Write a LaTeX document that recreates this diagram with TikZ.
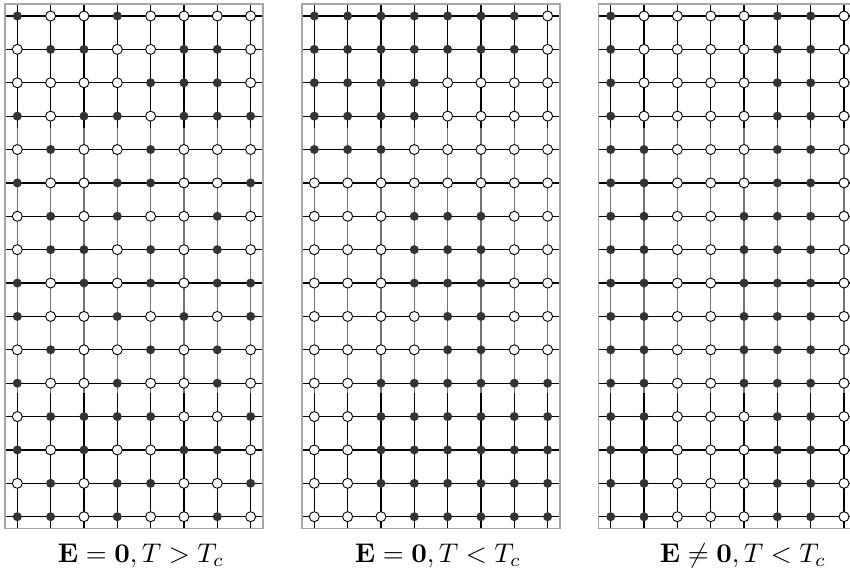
\documentclass[tikz,border=0pt]{standalone}
\usepackage{amsmath}
\begin{document}
\begin{tikzpicture}[x=1pt,y=-1pt,
  dot1/.style={circle,fill=black!80,inner sep=0pt,minimum size=9pt},
  dot0/.style={circle,draw=black,fill=white,line width=0.9pt,inner sep=0pt,minimum size=10pt},
  gridline/.style={line width=1.2pt,black},
  greyline/.style={line width=1.5pt,black!55},
  frame/.style={draw=black!35,line width=1.5pt},
  caption/.style={inner sep=0pt,scale=2.7}]
\useasboundingbox (0,0) rectangle (850,578);
\clip (0,0) rectangle (850,578);
\def\patA{1/{1,0,0,1,0,0,0,0},2/{0,1,1,0,0,1,1,0},3/{0,0,0,0,1,1,1,0},4/{1,0,1,1,0,1,1,1},
5/{0,1,0,0,1,0,0,0},6/{1,0,0,1,1,0,0,1},7/{0,1,0,1,0,0,1,0},8/{0,1,1,0,1,0,1,0},
9/{1,0,1,0,1,0,1,1},10/{1,0,0,1,0,1,0,1},11/{0,1,0,0,1,0,1,0},12/{1,0,0,1,0,0,1,0},
13/{0,1,1,1,1,0,0,1},14/{1,0,1,0,0,1,1,0},15/{0,1,0,1,1,0,0,1},16/{1,1,0,1,0,0,1,0}}
\def\patB{1/{1,1,1,1,1,1,1,0},2/{1,1,1,1,1,1,1,0},3/{1,1,1,1,0,0,0,0},4/{1,1,1,1,0,0,0,0},
5/{1,1,1,0,0,0,0,0},6/{0,0,0,0,0,0,0,0},7/{0,0,0,1,1,1,0,0},8/{0,0,0,1,1,1,0,0},
9/{0,0,0,1,1,1,0,0},10/{0,0,0,0,1,1,0,0},11/{0,0,0,0,1,1,0,0},12/{0,0,1,1,1,1,1,1},
13/{0,0,1,1,1,1,1,1},14/{0,0,1,1,1,1,1,1},15/{0,0,1,1,1,1,1,1},16/{0,0,0,1,1,1,1,1}}
\def\patC{1/{1,0,0,0,0,1,1,0},2/{1,0,0,0,0,1,1,0},3/{1,0,0,0,0,1,1,0},4/{1,0,0,0,0,1,1,0},
5/{1,1,0,0,0,1,1,0},6/{1,1,0,0,0,1,1,0},7/{1,1,0,0,1,1,1,0},8/{1,1,0,0,1,1,1,0},
9/{1,1,0,0,1,1,1,0},10/{1,1,0,0,1,1,1,0},11/{1,1,0,0,1,1,1,0},12/{1,1,0,0,1,1,1,0},
13/{1,1,0,0,0,1,1,0},14/{1,1,0,0,0,1,1,0},15/{1,1,0,0,0,1,1,0},16/{1,1,0,0,0,1,1,0}}
\foreach \p/\xs in {A/17.3,B/314.3,C/610.7}{
  % grid lines
  \foreach \r in {1,...,16}{
    \draw[gridline] ({\xs-12.3},{16+33.38*(\r-1)}) -- ({\xs+233.3+12.3},{16+33.38*(\r-1)});
  }
  \foreach \c in {1,...,8}{
    \draw[gridline] ({\xs+33.33*(\c-1)},4) -- ({\xs+33.33*(\c-1)},528.7);
    \draw[greyline] ({\xs+33.33*(\c-1)},128) -- ({\xs+33.33*(\c-1)},393);
  }
  \draw[frame] ({\xs-12.3},4) rectangle ({\xs+233.3+12.3},528.7);
}
% dots
\foreach \r/\row in \patA{
  \foreach \v [count=\c] in \row{
    \node[dot\v] (pA-\r-\c) at ({17.3+33.33*(\c-1)},{16+33.38*(\r-1)}) {};
  }
}
\foreach \r/\row in \patB{
  \foreach \v [count=\c] in \row{
    \node[dot\v] (pB-\r-\c) at ({314.3+33.33*(\c-1)},{16+33.38*(\r-1)}) {};
  }
}
\foreach \r/\row in \patC{
  \foreach \v [count=\c] in \row{
    \node[dot\v] (pC-\r-\c) at ({610.7+33.33*(\c-1)},{16+33.38*(\r-1)}) {};
  }
}
\node[caption] (capA) at (141,556) {$\mathbf{E}=\mathbf{0},T>T_c$};
\node[caption] (capB) at (438,556) {$\mathbf{E}=\mathbf{0},T<T_c$};
\node[caption] (capC) at (743,556) {$\mathbf{E}\neq\mathbf{0},T<T_c$};
\end{tikzpicture}
\end{document}
